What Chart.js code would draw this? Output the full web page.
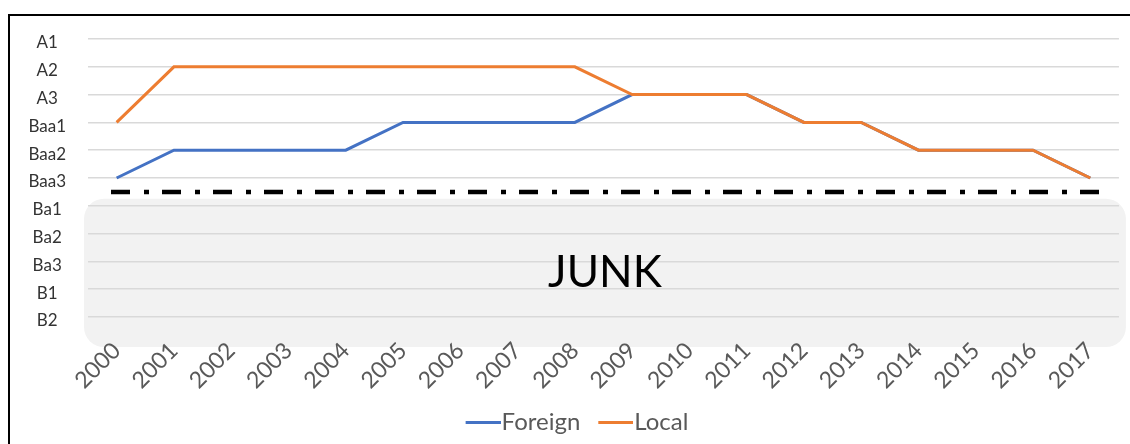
<!DOCTYPE html>
<html>
<head>
<meta charset="utf-8">
<script src="https://cdn.jsdelivr.net/npm/chart.js@4"></script>
<style>
  html, body { margin: 0; padding: 0; background: #ffffff; }
  #wrap { position: relative; width: 1130px; height: 444px; }
</style>
</head>
<body>
<div id="wrap"><canvas id="c" width="1130" height="444"></canvas></div>
<script>
// Sovereign rating history, Moody's scale (best at top)
const years = ['2000','2001','2002','2003','2004','2005','2006','2007','2008',
               '2009','2010','2011','2012','2013','2014','2015','2016','2017'];
const ratings = ['A1','A2','A3','Baa1','Baa2','Baa3','Ba1','Ba2','Ba3','B1','B2'];
const foreignRatings = ['Baa3','Baa2','Baa2','Baa2','Baa2','Baa1','Baa1','Baa1','Baa1',
                        'A3','A3','A3','Baa1','Baa1','Baa2','Baa2','Baa2','Baa3'];
const localRatings   = ['Baa1','A2','A2','A2','A2','A2','A2','A2','A2',
                        'A3','A3','A3','Baa1','Baa1','Baa2','Baa2','Baa2','Baa3'];
const lastInvestmentGrade = 'Baa3';
const firstJunkGrade = 'Ba1';
const junkLabel = 'JUNK';

// numeric position of a rating: B2 = 0 ... A1 = 10
const rank = r => ratings.length - 1 - ratings.indexOf(r);
const junkLine = (rank(lastInvestmentGrade) + rank(firstJunkGrade)) / 2;

const FONT = 'Lato, "Open Sans", sans-serif';
const BLUE = '#4472c4';
const ORANGE = '#ed7d31';

// legend swatch: a short line that sits right against its label text
function legendSwatch(color) {
  const c = document.createElement('canvas');
  c.width = 54;
  c.height = 3;
  const g = c.getContext('2d');
  g.fillStyle = color;
  g.fillRect(19, 0, 35, 3);
  return c;
}

function roundRectPath(ctx, x, y, w, h, r) {
  ctx.beginPath();
  ctx.moveTo(x + r, y);
  ctx.arcTo(x + w, y, x + w, y + h, r);
  ctx.arcTo(x + w, y + h, x, y + h, r);
  ctx.arcTo(x, y + h, x, y, r);
  ctx.arcTo(x, y, x + w, y, r);
  ctx.closePath();
}

const junkZone = {
  id: 'junkZone',
  beforeDraw(chart) {
    const { ctx, chartArea: a, scales: { y } } = chart;
    ctx.save();
    // outer frame (top and left edges)
    ctx.strokeStyle = '#000000';
    ctx.lineWidth = 2;
    ctx.beginPath();
    ctx.moveTo(9, 444);
    ctx.lineTo(9, 15);
    ctx.lineTo(1130, 15);
    ctx.stroke();
    // shaded speculative-grade zone
    const top = y.getPixelForValue(rank(firstJunkGrade)) - 7;
    const bottom = y.getPixelForValue(0) + 30;
    const left = a.left - 4;
    const right = a.right + 7;
    ctx.fillStyle = '#f2f2f2';
    roundRectPath(ctx, left, top, right - left, bottom - top, 20);
    ctx.fill();
    ctx.restore();
  },
  beforeDatasetsDraw(chart) {
    const { ctx, chartArea: a, scales: { y } } = chart;
    ctx.save();
    const top = y.getPixelForValue(rank(firstJunkGrade)) - 7;
    const bottom = y.getPixelForValue(0) + 30;
    const cx = (a.left - 4 + a.right + 7) / 2;
    const cy = (top + bottom) / 2;
    ctx.fillStyle = '#000000';
    ctx.font = '44px ' + FONT;
    ctx.textAlign = 'center';
    ctx.textBaseline = 'middle';
    ctx.fillText(junkLabel, cx, cy);
    // investment-grade threshold
    const ly = y.getPixelForValue(junkLine);
    ctx.strokeStyle = '#000000';
    ctx.lineWidth = 4.5;
    ctx.lineCap = 'butt';
    ctx.setLineDash([19, 14, 5, 13]);
    ctx.beginPath();
    ctx.moveTo(a.left + 23, ly);
    ctx.lineTo(a.right - 8, ly);
    ctx.stroke();
    ctx.restore();
  }
};

new Chart(document.getElementById('c'), {
  type: 'line',
  data: {
    labels: years,
    datasets: [
      {
        label: 'Foreign',
        data: foreignRatings.map(rank),
        borderColor: BLUE,
        backgroundColor: BLUE,
        pointStyle: legendSwatch(BLUE),
        borderWidth: 3,
        pointRadius: 0,
        tension: 0,
        order: 2
      },
      {
        label: 'Local',
        data: localRatings.map(rank),
        borderColor: ORANGE,
        backgroundColor: ORANGE,
        pointStyle: legendSwatch(ORANGE),
        borderWidth: 3,
        pointRadius: 0,
        tension: 0,
        order: 1
      }
    ]
  },
  options: {
    responsive: false,
    animation: false,
    devicePixelRatio: 1,
    layout: { padding: { left: 23, right: 7, top: 39, bottom: 0 } },
    plugins: {
      legend: {
        position: 'bottom',
        labels: {
          usePointStyle: true,
          pointStyleWidth: 32,
          color: '#595959',
          font: { family: FONT, size: 24 },
          padding: 10,
          sort: (a, b) => a.datasetIndex - b.datasetIndex
        }
      },
      tooltip: { enabled: false }
    },
    scales: {
      x: {
        type: 'category',
        offset: true,
        grid: { display: false, drawTicks: false },
        border: { display: false },
        ticks: {
          minRotation: 45,
          maxRotation: 45,
          autoSkip: false,
          padding: 20,
          color: '#595959',
          font: { family: FONT, size: 23 }
        },
        afterFit(scale) { scale.height = 83; }
      },
      y: {
        type: 'linear',
        min: 0,
        max: ratings.length - 1,
        grid: { color: '#d9d9d9', lineWidth: 1.5, drawTicks: false },
        border: { display: false },
        ticks: {
          stepSize: 1,
          autoSkip: false,
          padding: 22,
          crossAlign: 'center',
          labelOffset: 4,
          color: '#333333',
          font: { family: FONT, size: 17 },
          callback: v => ratings[ratings.length - 1 - v]
        },
        afterFit(scale) { scale.width = 65; }
      }
    }
  },
  plugins: [junkZone]
});
</script>
</body>
</html>
